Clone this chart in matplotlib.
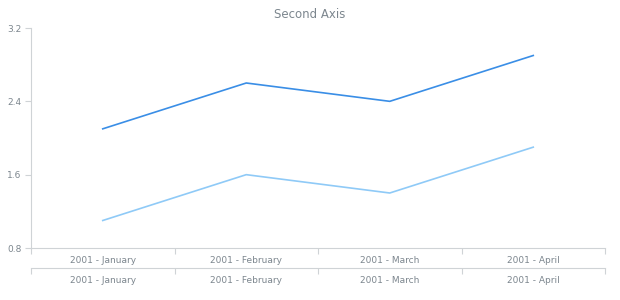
import matplotlib
matplotlib.use("Agg")
from matplotlib import pyplot as plt

months = ["2001 - January", "2001 - February", "2001 - March", "2001 - April"]
series_1 = [2.1, 2.6, 2.4, 2.9]
series_2 = [1.1, 1.6, 1.4, 1.9]
y_ticks = [0.8, 1.6, 2.4, 3.2]

text_color = "#7c868e"
axis_color = "#cfd3d6"

fig = plt.figure(figsize=(6.2, 3.0), dpi=100)
ax = fig.add_axes([31 / 620, 52 / 300, 574 / 620, 220 / 300])

x_values = range(len(months))
ax.plot(x_values, series_1, color="#3a8ee6", linewidth=1.2)
ax.plot(x_values, series_2, color="#8fcaf7", linewidth=1.2)

ax.set_xlim(-0.5, len(months) - 0.5)
ax.set_ylim(0.8, 3.2)
ax.set_yticks(y_ticks)
ax.set_yticklabels([str(v) for v in y_ticks])

# categories: labels in the middle, tick marks on the borders
bounds = [i - 0.5 for i in range(len(months) + 1)]
ax.set_xticks(list(x_values))
ax.set_xticklabels(months)
ax.set_xticks(bounds, minor=True)
ax.tick_params(axis="x", which="major", length=0, pad=6, labelsize=6.5, labelcolor=text_color)
ax.tick_params(axis="x", which="minor", length=4, color=axis_color, width=0.8)
ax.tick_params(axis="y", length=4, color=axis_color, width=0.8, labelsize=6.5,
               labelcolor=text_color, pad=3)

for side in ["top", "right"]:
    ax.spines[side].set_visible(False)
for side in ["left", "bottom"]:
    ax.spines[side].set_color(axis_color)
    ax.spines[side].set_linewidth(0.8)

# second x axis below the first one
ax2 = ax.secondary_xaxis(-20 / 220)
ax2.set_xticks(list(x_values))
ax2.set_xticklabels(months)
ax2.set_xticks(bounds, minor=True)
ax2.tick_params(axis="x", which="major", length=0, pad=6, labelsize=6.5, labelcolor=text_color)
ax2.tick_params(axis="x", which="minor", length=4, color=axis_color, width=0.8)
ax2.spines["bottom"].set_color(axis_color)
ax2.spines["bottom"].set_linewidth(0.8)

fig.text(0.5, 1 - 14 / 300, "Second Axis", ha="center", va="center",
         fontsize=8.5, color=text_color)

plt.savefig("out.png", dpi=100)
